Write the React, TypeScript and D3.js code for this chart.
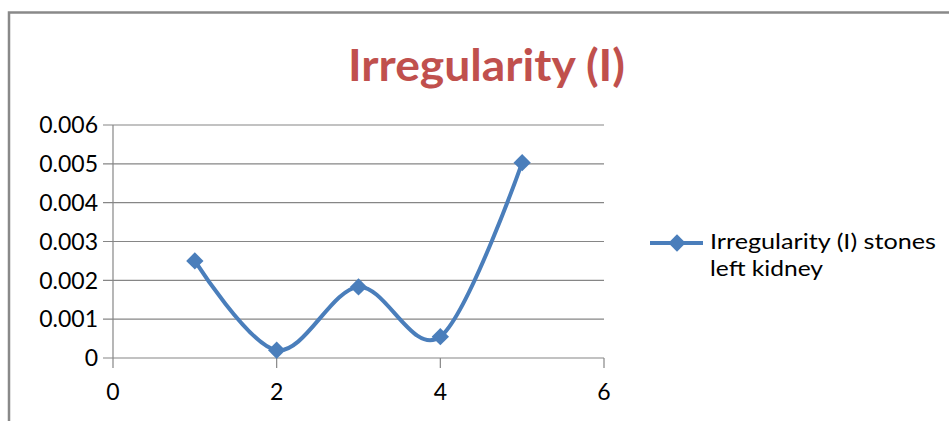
import React from "react";
import * as d3 from "d3";

const xValues = [1, 2, 3, 4, 5];
const seriesValues = [0.0025, 0.0002, 0.00183, 0.00055, 0.00503];
const seriesName1 = "Irregularity (I) stones";
const seriesName2 = "left kidney";
const chartTitle = "Irregularity (I)";
const xTicks = [0, 2, 4, 6];
const yTicks = [0, 0.001, 0.002, 0.003, 0.004, 0.005, 0.006];
const yTickLabels = ["0", "0.001", "0.002", "0.003", "0.004", "0.005", "0.006"];

const W = 949;
const H = 421;
const FONT = "Lato, 'Open Sans', sans-serif";
const LINE_COLOR = "#4A7EBB";
const GRID = "#868686";

export default function App() {
  const x = d3.scaleLinear().domain([0, 6]).range([113, 604]);
  const y = d3.scaleLinear().domain([0, 0.006]).range([358, 125]);
  const pts: [number, number][] = xValues.map((v, i) => [v, seriesValues[i]]);
  const line = d3
    .line<[number, number]>()
    .x((d) => x(d[0]))
    .y((d) => y(d[1]))
    .curve(d3.curveCatmullRom.alpha(0));
  const diamond = d3.symbol().type(d3.symbolSquare).size(150)() as string;

  return (
    <div style={{ position: "absolute", left: 0, top: 0, width: W, height: H, background: "#fff" }}>
      <svg width={W} height={H} style={{ display: "block" }} fontFamily={FONT}>
        <rect x={0} y={0} width={W} height={H} fill="#fff" />
        {/* outer frame */}
        <path d={`M9,${H + 5} L9,12.5 L${W + 5},12.5`} fill="none" stroke="#898989" strokeWidth={2.5} />
        {/* title */}
        <text
          x={486.5}
          y={81}
          textAnchor="middle"
          fontSize={44}
          fontWeight="bold"
          fill="#C0504D"
          textLength={277}
          lengthAdjust="spacingAndGlyphs"
        >
          {chartTitle}
        </text>
        {/* gridlines & y ticks */}
        {yTicks.map((t, i) => (
          <g key={"y" + i}>
            <line x1={103} x2={x(6)} y1={y(t)} y2={y(t)} stroke={GRID} strokeWidth={1.2} />
            <text x={98} y={y(t)} dy="0.36em" textAnchor="end" fontSize={23} fill="#000">
              {yTickLabels[i]}
            </text>
          </g>
        ))}
        {/* y axis */}
        <line x1={x(0)} x2={x(0)} y1={y(0.006)} y2={y(0)} stroke={GRID} strokeWidth={1.2} />
        {/* x ticks */}
        {xTicks.map((t, i) => (
          <g key={"x" + i}>
            <line x1={x(t)} x2={x(t)} y1={y(0)} y2={y(0) + 10} stroke={GRID} strokeWidth={1.2} />
            <text x={x(t)} y={400} textAnchor="middle" fontSize={23} fill="#000">
              {String(t)}
            </text>
          </g>
        ))}
        {/* series */}
        <path d={line(pts) as string} fill="none" stroke={LINE_COLOR} strokeWidth={4} strokeLinejoin="round" />
        {pts.map((p, i) => (
          <path
            key={"m" + i}
            d={diamond}
            transform={`translate(${x(p[0])},${y(p[1])}) rotate(45)`}
            fill={LINE_COLOR}
          />
        ))}
        {/* legend */}
        <line x1={650} x2={703} y1={243} y2={243} stroke={LINE_COLOR} strokeWidth={4} />
        <path d={diamond} transform="translate(677,243) rotate(45)" fill={LINE_COLOR} />
        <text x={710} y={248.5} fontSize={22} fill="#000" textLength={226} lengthAdjust="spacingAndGlyphs">
          {seriesName1}
        </text>
        <text x={710} y={275.5} fontSize={22} fill="#000" textLength={113} lengthAdjust="spacingAndGlyphs">
          {seriesName2}
        </text>
      </svg>
    </div>
  );
}
